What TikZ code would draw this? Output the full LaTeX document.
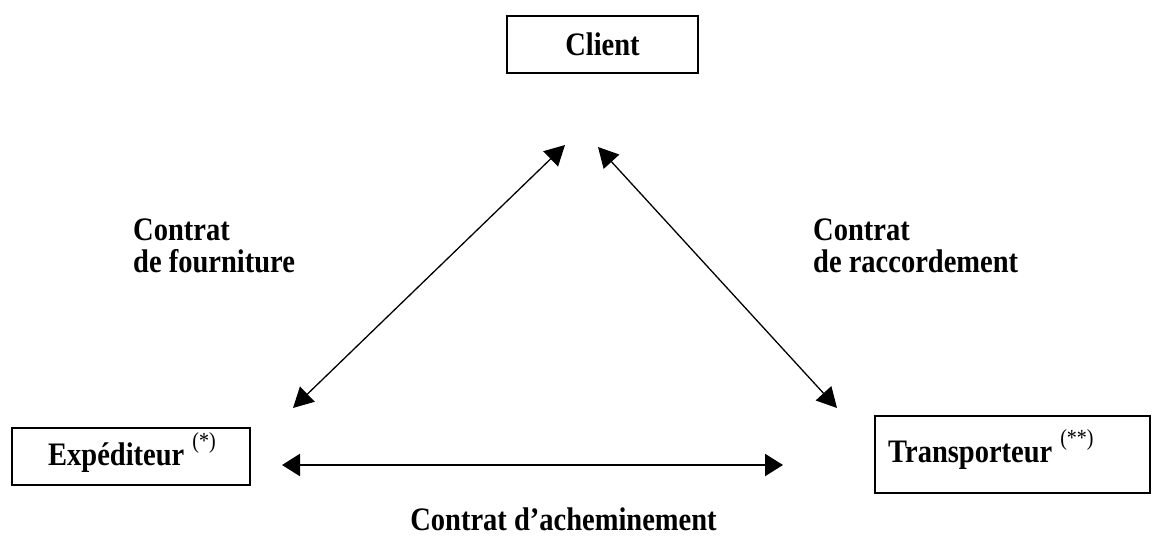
\documentclass[tikz,border=0pt]{standalone}
\usepackage{fontspec}
\setmainfont{Liberation Serif}
\usetikzlibrary{arrows.meta}
\newcommand\vst[1]{\scalebox{1}[1.15]{#1}}
\newcommand\supmark[1]{\hspace{8pt}\raisebox{14pt}{\fontsize{20}{20}\selectfont\mdseries #1}}
\tikzset{
  box/.style={draw, line width=1.5pt, inner sep=0pt},
  lbl/.style={font=\bfseries\fontsize{28.5}{28}\selectfont, inner sep=0pt},
  rel/.style={line width=1.3pt, {Triangle[length=20pt,width=21pt]}-{Triangle[length=20pt,width=21pt]}},
  relh/.style={line width=2.4pt, {Triangle[length=18pt,width=22pt]}-{Triangle[length=18pt,width=22pt]}}
}
\begin{document}
\begin{tikzpicture}[x=1pt,y=-1pt]
\useasboundingbox (0,0) rectangle (1152,536);
% boxes
\node[box, lbl, minimum width=191pt, minimum height=57pt] (client) at (602.5,44.5) {\vst{Client}};
\node[box, minimum width=238pt, minimum height=57pt] (exp) at (131,456.5) {};
\node[box, minimum width=275pt, minimum height=77pt] (trans) at (1012.5,454.5) {};
\node[lbl, anchor=base west] (exptxt) at (48,465) {\vst{Expéditeur\supmark{(*)}}};
\node[lbl, anchor=base west] (transtxt) at (888,462) {\vst{Transporteur\supmark{(**)}}};
% labels
\node[lbl, anchor=base west] (fourn) at (133,240) {\vst{\begin{tabular}[t]{@{}l@{}}Contrat\\de fourniture\end{tabular}}};
\node[lbl, anchor=base west] (racc) at (813,240) {\vst{\begin{tabular}[t]{@{}l@{}}Contrat\\de raccordement\end{tabular}}};
\node[lbl, anchor=base] (ache) at (563.5,530) {\vst{Contrat d’acheminement}};
% connector ends
\coordinate (f1) at (565,145);
\coordinate (f2) at (293,408);
\coordinate (r1) at (598,147);
\coordinate (r2) at (837,408);
\coordinate (a1) at (282,465);
\coordinate (a2) at (783,465);
\draw[rel] (f2) -- (f1);
\draw[rel] (r1) -- (r2);
\draw[relh] (a1) -- (a2);
\end{tikzpicture}
\end{document}
